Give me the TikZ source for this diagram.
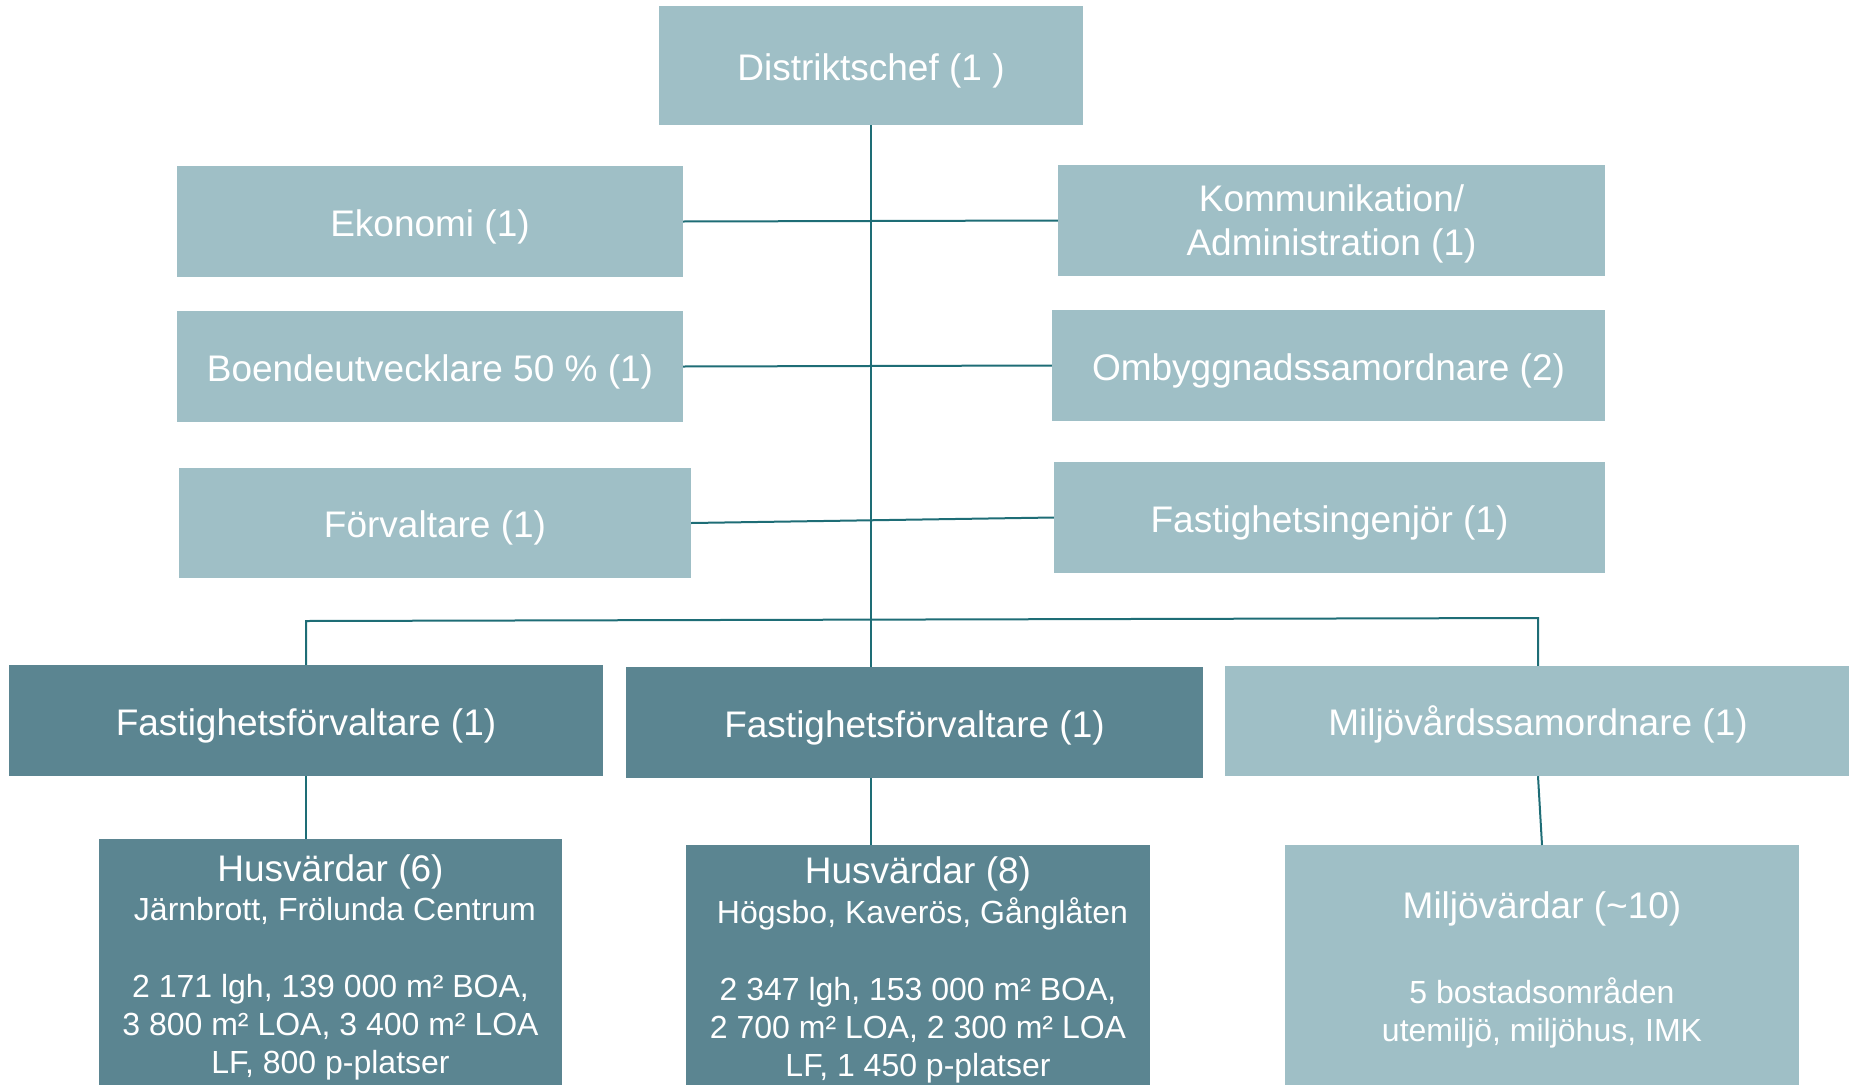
\documentclass[tikz,border=0pt]{standalone}
\usepackage{fontspec}
\setmainfont{Liberation Sans}
\usetikzlibrary{positioning}
\definecolor{boxlight}{HTML}{9FBFC6}
\definecolor{boxdark}{HTML}{5B8591}
\definecolor{linkteal}{HTML}{1E6D76}
\tikzset{
  orgbox/.style={inner sep=0pt, text=white, align=center, text depth=0pt, font=\fontsize{37}{44}\selectfont},
  oneline/.style={text height=29pt},
  lightbox/.style={orgbox, fill=boxlight},
  darkbox/.style={orgbox, fill=boxdark},
  subtext/.style={inner sep=0pt, text=white, align=center, font=\fontsize{32}{38}\selectfont},
  link/.style={draw=linkteal, line width=2pt},
}
\begin{document}
\begin{tikzpicture}[x=1pt, y=-1pt]
    \clip (0,0) rectangle (1849,1084);
    \useasboundingbox (0,0) rectangle (1849,1084);
    % top
    \node[lightbox, oneline, minimum width=424, minimum height=119] (dc) at (871,65.5) {Distriktschef (1 )};
    % staff, left column
    \node[lightbox, oneline, minimum width=506, minimum height=111] (eko) at (430,221.5) {Ekonomi (1)};
    \node[lightbox, oneline, minimum width=506, minimum height=111] (boende) at (430,366.5) {Boendeutvecklare 50 \% (1)};
    \node[lightbox, oneline, minimum width=512, minimum height=110] (forv) at (435,523) {Förvaltare (1)};
    % staff, right column
    \node[lightbox, minimum width=547, minimum height=111] (komm) at (1331.5,220.5) {Kommunikation/\\Administration (1)};
    \node[lightbox, oneline, minimum width=553, minimum height=111] (omb) at (1328.5,365.5) {Ombyggnadssamordnare (2)};
    \node[lightbox, oneline, minimum width=551, minimum height=111] (ing) at (1329.5,517.5) {Fastighetsingenjör (1)};
    % managers
    \node[darkbox, oneline, minimum width=594, minimum height=111] (ff1) at (306,720.5) {Fastighetsförvaltare (1)};
    \node[darkbox, oneline, minimum width=577, minimum height=111] (ff2) at (914.5,722.5) {Fastighetsförvaltare (1)};
    \node[lightbox, oneline, minimum width=626, minimum height=110] (mvs) at (1538,721) {Miljövårdssamordnare (1)};
    % bottom row
    \node[darkbox, anchor=north, minimum width=463, minimum height=260] (hv6) at (330.5,839) {};
    \node[darkbox, anchor=north, minimum width=464, minimum height=260] (hv8) at (918,845) {};
    \node[lightbox, anchor=north, minimum width=514, minimum height=260] (mv) at (1542,845) {};
    \node[subtext, below=15pt of hv6.north] (hv6 txt) {{\fontsize{37}{38}\selectfont Husvärdar (6)}\\[1pt]
      \ Järnbrott, Frölunda Centrum\\[39pt]
      2 171 lgh, 139 000 m² BOA,\\
      3 800 m² LOA, 3 400 m² LOA\\
      LF, 800 p-platser};
    \node[subtext, below=11pt of hv8.north] (hv8 txt) {{\fontsize{37}{38}\selectfont Husvärdar (8)}\\[2pt]
      \ Högsbo, Kaverös, Gånglåten\\[39pt]
      2 347 lgh, 153 000 m² BOA,\\
      2 700 m² LOA, 2 300 m² LOA\\
      LF, 1 450 p-platser};
    \node[subtext, below=46pt of mv.north] (mv txt) {{\fontsize{37}{38}\selectfont Miljövärdar (\textasciitilde10)}\\[47pt]
      5 bostadsområden\\
      utemiljö, miljöhus, IMK};
    % connectors
    \draw[link] (dc.south) -- (dc.south |- ff2.north);
    \draw[link] (eko.east) -- (komm.west);
    \draw[link] (boende.east) -- (omb.west);
    \draw[link] (forv.east) -- (ing.west);
    \draw[link] (ff1.north) -- (ff1.north |- 0,621) -- (mvs.north |- 0,618) -- (mvs.north);
    \draw[link] (ff1.south) -- (ff1.south |- hv6.north);
    \draw[link] (dc.south |- ff2.south) -- (dc.south |- hv8.north);
    \draw[link] (mvs.south) -- (mv.north);
\end{tikzpicture}
\end{document}
